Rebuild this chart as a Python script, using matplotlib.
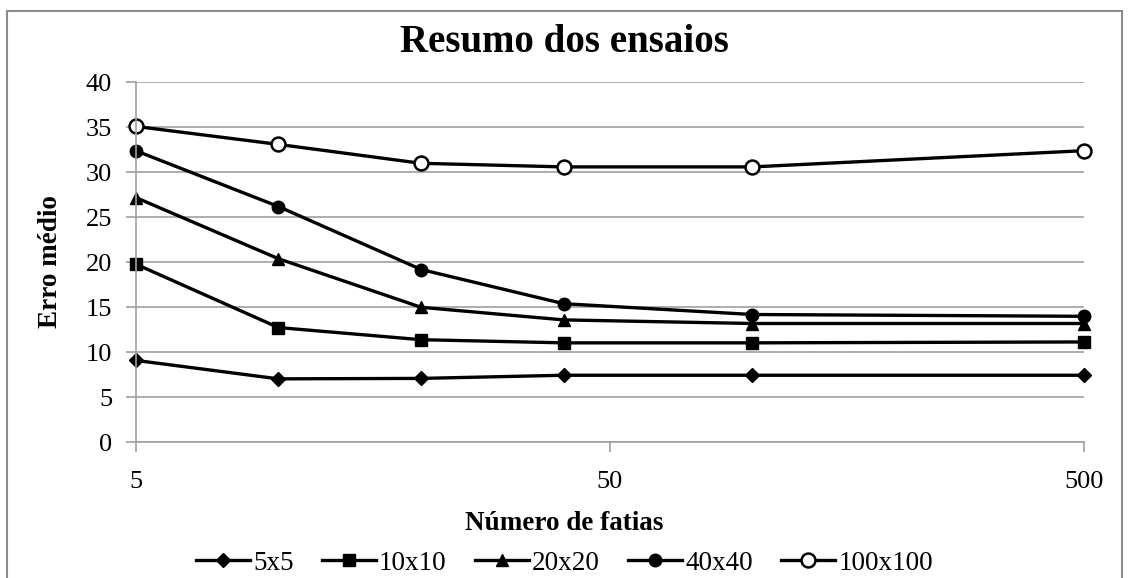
import matplotlib
matplotlib.use("Agg")
import matplotlib.pyplot as plt
from matplotlib.patches import Rectangle

plt.rcParams['font.family'] = ['Liberation Serif', 'DejaVu Serif']

# Number of slices (log-scaled x axis)
fatias = [5, 10, 20, 40, 100, 500]

# Mean error for each grid size
erro_5x5 = [9.1, 7.05, 7.1, 7.45, 7.45, 7.45]
erro_10x10 = [19.8, 12.75, 11.4, 11.05, 11.05, 11.15]
erro_20x20 = [27.2, 20.4, 15.0, 13.6, 13.2, 13.2]
erro_40x40 = [32.4, 26.2, 19.2, 15.4, 14.2, 14.0]
erro_100x100 = [35.1, 33.1, 31.0, 30.6, 30.6, 32.4]

series = [
    ("5x5", erro_5x5, dict(marker="D", markersize=7, markerfacecolor="black")),
    ("10x10", erro_10x10, dict(marker="s", markersize=9, markerfacecolor="black")),
    ("20x20", erro_20x20, dict(marker="^", markersize=9, markerfacecolor="black")),
    ("40x40", erro_40x40, dict(marker="o", markersize=9, markerfacecolor="black")),
    ("100x100", erro_100x100, dict(marker="o", markersize=10, markerfacecolor="white",
                                   markeredgewidth=1.8)),
]

W, H = 1129, 578
fig = plt.figure(figsize=(W / 100, H / 100), dpi=100)
ax = fig.add_axes([135.7 / W, 1 - 442.3 / H, (1083.7 - 135.7) / W, (442.3 - 82.3) / H])

for label, vals, style in series:
    ax.plot(fatias, vals, color="black", linewidth=2.4, label=label,
            markeredgecolor="black", clip_on=False, **style)

ax.set_xscale("log")
ax.set_xlim(5, 500)
ax.set_ylim(0, 40)
ax.set_xticks([5, 50, 500])
ax.set_xticklabels(["5", "50", "500"])
ax.xaxis.set_minor_locator(matplotlib.ticker.NullLocator())
ax.set_yticks(range(0, 41, 5))

grid_color = "#a0a0a0"
ax.grid(axis="y", color=grid_color, linewidth=1.2)
ax.set_axisbelow(True)
for side in ("top", "right"):
    ax.spines[side].set_visible(False)
for side in ("left", "bottom"):
    ax.spines[side].set_color(grid_color)
    ax.spines[side].set_linewidth(1.2)
ax.tick_params(axis="both", direction="out", length=7, width=1.2, color=grid_color,
               labelsize=19, labelcolor="black")
ax.tick_params(axis="x", pad=14)
ax.tick_params(axis="y", pad=10)

# Chart title, axis titles and legend are centred on the whole chart area
cx = 564.5 / W
fig.text(cx, 1 - 42 / H, "Resumo dos ensaios", fontsize=28, fontweight="bold",
         ha="center", va="center")
fig.text(cx, 1 - 524 / H, "Número de fatias", fontsize=19.5, fontweight="bold",
         ha="center", va="center")
fig.text(51 / W, 1 - 262 / H, "Erro médio", fontsize=19.5, fontweight="bold",
         ha="center", va="center", rotation=90)

fig.legend(loc="center", bbox_to_anchor=(cx, 1 - 563 / H), ncol=5, frameon=False,
           fontsize=19.5, handlelength=2.0, handletextpad=0.1, columnspacing=1.05,
           borderpad=0, borderaxespad=0)

fig.add_artist(Rectangle((7 / W, -0.05), (1122 - 7) / W, 1.05 - 11 / H,
                         transform=fig.transFigure, fill=False,
                         edgecolor="#8c8c8c", linewidth=1.5))

fig.savefig("out.png", dpi=100)
